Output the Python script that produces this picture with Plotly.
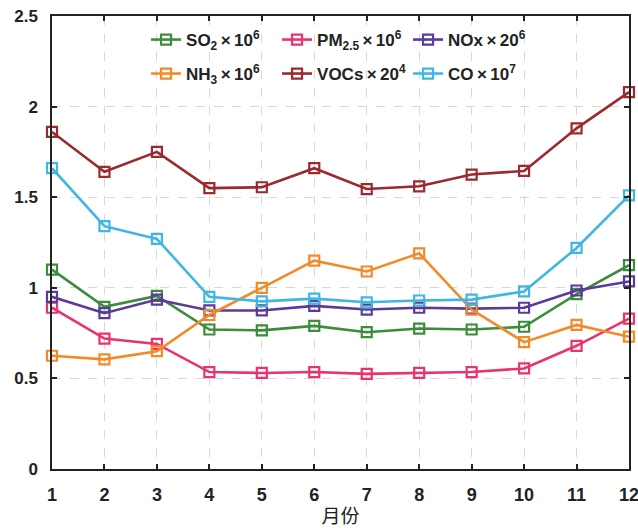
import plotly.graph_objects as go

months = list(range(1, 13))
so2 = [1.10, 0.895, 0.955, 0.77, 0.765, 0.79, 0.755, 0.775, 0.77, 0.785, 0.965, 1.125]
pm25 = [0.89, 0.72, 0.69, 0.535, 0.53, 0.535, 0.525, 0.53, 0.535, 0.555, 0.68, 0.83]
nox = [0.95, 0.86, 0.935, 0.875, 0.875, 0.90, 0.88, 0.89, 0.885, 0.89, 0.985, 1.035]
nh3 = [0.625, 0.605, 0.65, 0.85, 1.0, 1.15, 1.09, 1.19, 0.88, 0.70, 0.795, 0.73]
vocs = [1.86, 1.64, 1.75, 1.55, 1.555, 1.66, 1.545, 1.56, 1.625, 1.645, 1.88, 2.08]
co = [1.66, 1.34, 1.27, 0.95, 0.925, 0.94, 0.92, 0.93, 0.935, 0.98, 1.22, 1.51]

X = "\u2009×\u2009"
series = [
    ("SO<sub>2</sub>" + X + "10<sup>6</sup>", so2, "#3c8c3c", "legend"),
    ("PM<sub>2.5</sub>" + X + "10<sup>6</sup>", pm25, "#e8336f", "legend"),
    ("NOx" + X + "20<sup>6</sup>", nox, "#5a3a9a", "legend"),
    ("NH<sub>3</sub>" + X + "10<sup>6</sup>", nh3, "#f28a2a", "legend2"),
    ("VOCs" + X + "20<sup>4</sup>", vocs, "#9a2a2e", "legend2"),
    ("CO" + X + "10<sup>7</sup>", co, "#40b6e2", "legend2"),
]

fig = go.Figure()
for name, vals, col, lg in series:
    fig.add_trace(go.Scatter(
        x=months, y=vals, name=name, mode="lines+markers", legend=lg,
        line=dict(color=col, width=2.6),
        marker=dict(symbol="square-open", size=10, color=col, line=dict(width=2.2, color=col)),
        cliponaxis=False,
    ))

axis_common = dict(
    showline=True, linecolor="#222", linewidth=1.5, mirror="ticks",
    ticks="inside", ticklen=5, tickcolor="#222", tickwidth=1.5,
    showgrid=True, gridcolor="#d8d8d8", griddash="dash", gridwidth=1,
    zeroline=False, automargin=False, ticklabeloverflow="allow",
    ticklabelstandoff=9,
)

fig.update_xaxes(range=[1, 12], tickmode="array", tickvals=months,
                 tickfont=dict(family="Liberation Sans, Arial", size=18, color="#222", weight="bold"),
                 title=dict(text="月份", font=dict(family="Noto Sans CJK SC", size=19, color="#222"), standoff=5),
                 **axis_common)
fig.update_yaxes(range=[0, 2.5], tickmode="array", tickvals=[0, 0.5, 1, 1.5, 2, 2.5],
                 ticktext=["0", "0.5", "1", "1.5", "2", "2.5"],
                 tickfont=dict(family="Liberation Sans, Arial", size=17, color="#222", weight="bold"),
                 **axis_common)

legend_common = dict(orientation="h", xanchor="left", yanchor="middle",
                     bgcolor="rgba(0,0,0,0)", entrywidth=86, itemwidth=30,
                     font=dict(family="Liberation Sans, Arial", size=17, color="#222", weight="bold"))

fig.update_layout(
    width=638, height=531,
    margin=dict(l=52, r=9, t=16, b=62),
    plot_bgcolor="white", paper_bgcolor="white",
    legend=dict(x=0.163, y=0.947, **legend_common),
    legend2=dict(x=0.163, y=0.872, **legend_common),
)

fig.write_html("out.html", config={"displayModeBar": False},
               post_script="document.body.style.margin='0';document.body.style.overflow='hidden';")
